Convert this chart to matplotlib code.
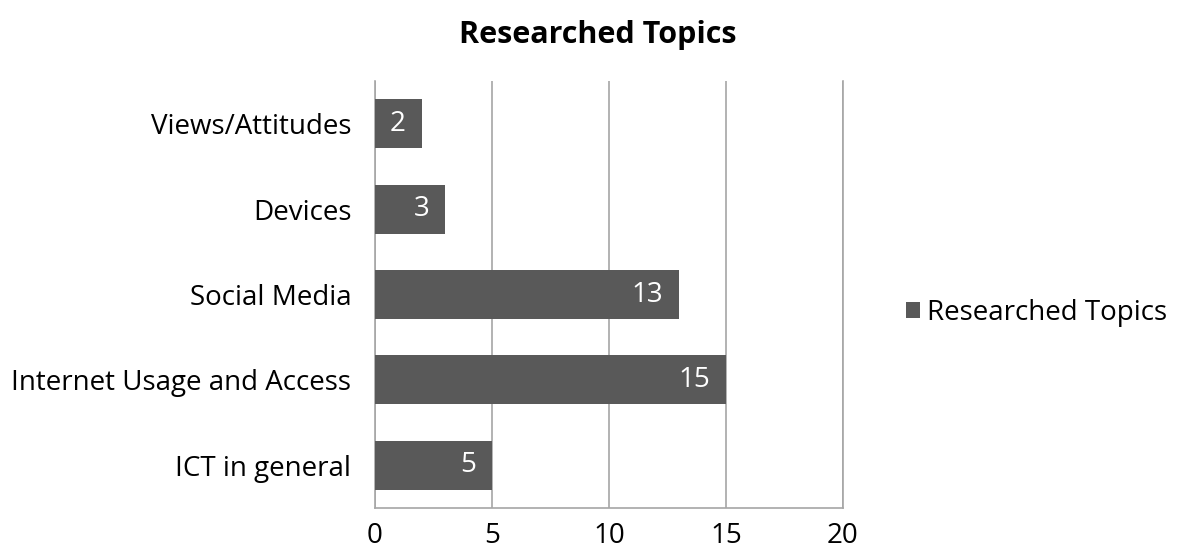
import matplotlib
matplotlib.use("Agg")
import matplotlib.pyplot as plt
from matplotlib.patches import Patch

categories = ["ICT in general", "Internet Usage and Access", "Social Media", "Devices", "Views/Attitudes"]
values = [5, 15, 13, 3, 2]
xticks = [0, 5, 10, 15, 20]
series_name = "Researched Topics"
title = "Researched Topics"

plt.rcParams['font.family'] = ['Open Sans', 'DejaVu Sans']
bar_color = "#595959"
grid_color = "#a6a6a6"

fig = plt.figure(figsize=(11.8, 5.51), dpi=100)
ax = fig.add_axes([375/1180, 1 - 508/551, (843-375)/1180, (508-81)/551])

y = list(range(len(categories)))
bars = ax.barh(y, values, height=0.575, color=bar_color, zorder=3)
ax.set_xlim(0, 20)
ax.set_ylim(-0.5, len(categories) - 0.5)
ax.set_xticks(xticks)
ax.set_xticklabels([str(t) for t in xticks], fontsize=20)
ax.set_yticks(y)
ax.set_yticklabels(categories, fontsize=20)
ax.tick_params(axis='both', length=0, colors='black')
ax.tick_params(axis='x', pad=10)
ax.tick_params(axis='y', pad=17)
ax.xaxis.grid(True, color=grid_color, linewidth=1.2, zorder=0)
for s in ax.spines.values():
    s.set_color(grid_color)
    s.set_linewidth(1.2)
ax.spines['top'].set_visible(False)

for b, v in zip(bars, values):
    ax.annotate(str(v), xy=(v, b.get_y() + b.get_height()/2), xytext=(-16, 0),
                textcoords='offset pixels', ha='right', va='center',
                color='white', fontsize=20, zorder=4)

fig.text(598/1180, 1 - 35/551, title, ha='center', va='center', fontsize=22, fontweight='bold')

handle = Patch(facecolor=bar_color, edgecolor='none')
fig.legend([handle], [series_name], loc='center left', bbox_to_anchor=(881/1180, 1 - 313/551),
           frameon=False, fontsize=20, handlelength=0.5, handleheight=0.5, handletextpad=0.25)

fig.savefig("out.png", dpi=100)
